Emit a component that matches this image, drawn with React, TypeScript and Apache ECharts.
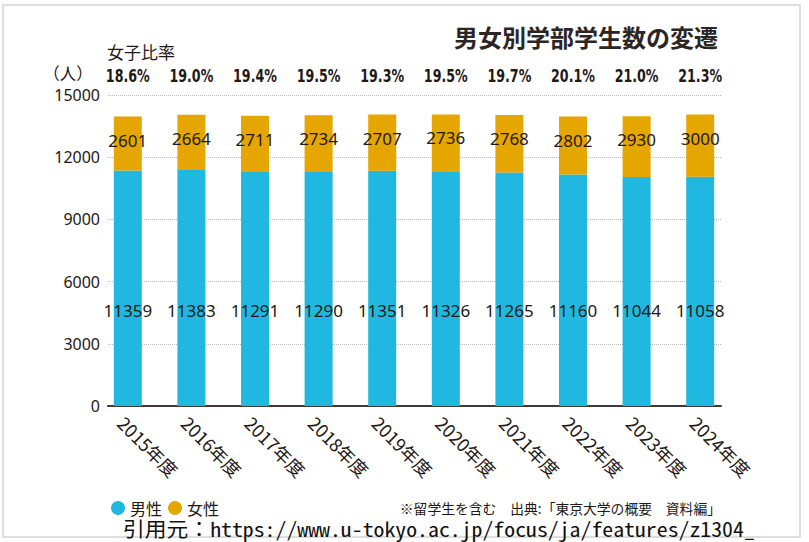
import React, { useEffect, useRef } from "react";
import * as echarts from "echarts";

const years = ["2015年度", "2016年度", "2017年度", "2018年度", "2019年度", "2020年度", "2021年度", "2022年度", "2023年度", "2024年度"];
const maleCounts = [11359, 11383, 11291, 11290, 11351, 11326, 11265, 11160, 11044, 11058];
const femaleCounts = [2601, 2664, 2711, 2734, 2707, 2736, 2768, 2802, 2930, 3000];
const femaleRatio = ["18.6%", "19.0%", "19.4%", "19.5%", "19.3%", "19.5%", "19.7%", "20.1%", "21.0%", "21.3%"];
const yMin = 0;
const yMax = 15000;
const yStep = 3000;

const TEXT = "#231815";
const CYAN = "#20b8e0";
const ORANGE = "#e6a600";
const CJK = "'Noto Sans CJK JP', 'Noto Sans', sans-serif";
const LATIN = "'Noto Sans', 'Noto Sans CJK JP', sans-serif";
const NARROW = "'DejaVu Sans Condensed', 'DejaVu Sans', sans-serif";

export default function App() {
  const ref = useRef<HTMLDivElement>(null);
  useEffect(() => {
    if (!ref.current) return;
    const chart = echarts.init(ref.current, null, { renderer: "svg" });
    const option: any = {
      animation: false,
      backgroundColor: "#ffffff",
      title: {
        text: "男女別学部学生数の変遷",
        right: 91,
        top: 24,
        padding: 0,
        textStyle: { fontFamily: CJK, fontSize: 24, fontWeight: "bold", color: "#2b2523" },
      },
      legend: {
        data: ["男性", "女性"],
        left: 111,
        top: 500,
        icon: "circle",
        itemWidth: 14,
        itemHeight: 14,
        itemGap: 6,
        padding: 0,
        textStyle: { fontFamily: CJK, fontSize: 16, color: TEXT },
      },
      grid: [
        { left: 96, right: 77, top: 95, bottom: 136 },
        { left: 108, right: 88, top: 95, bottom: 136 },
      ],
      xAxis: [
        {
          type: "category",
          gridIndex: 0,
          data: years,
          axisLine: { show: false },
          axisTick: { show: false },
          axisLabel: {
            interval: 0,
            rotate: -45,
            margin: 7,
            verticalAlign: "top",
            fontFamily: CJK,
            fontSize: 18,
            color: TEXT,
          },
        },
        {
          type: "category",
          gridIndex: 1,
          data: years,
          axisLine: { show: true, lineStyle: { color: "#3e3a39", width: 2 } },
          axisTick: { show: false },
          axisLabel: { show: false },
        },
      ],
      yAxis: [
        { type: "value", gridIndex: 0, min: yMin, max: yMax, interval: yStep, show: false },
        {
          type: "value",
          gridIndex: 1,
          min: yMin,
          max: yMax,
          interval: yStep,
          axisLine: { show: false },
          axisTick: { show: false },
          axisLabel: {
            margin: 8,
            fontFamily: LATIN,
            fontSize: 16,
            color: TEXT,
            formatter: (v: number) => String(v),
          },
          splitLine: { show: true, lineStyle: { type: "dotted", color: "#b8b8b8", width: 1 } },
        },
      ],
      series: [
        {
          name: "男性",
          type: "bar",
          xAxisIndex: 0,
          yAxisIndex: 0,
          stack: "total",
          barWidth: 28,
          data: maleCounts,
          itemStyle: { color: CYAN },
          label: {
            show: true,
            position: "insideBottom",
            distance: 87,
            fontFamily: LATIN,
            fontSize: 17,
            color: TEXT,
          },
        },
        {
          name: "女性",
          type: "bar",
          xAxisIndex: 0,
          yAxisIndex: 0,
          stack: "total",
          barWidth: 28,
          data: femaleCounts,
          itemStyle: { color: ORANGE },
          label: {
            show: true,
            position: "insideTop",
            distance: 15,
            fontFamily: LATIN,
            fontSize: 17,
            color: TEXT,
          },
        },
        {
          name: "女子比率",
          type: "custom",
          xAxisIndex: 0,
          yAxisIndex: 0,
          clip: false,
          data: femaleRatio.map((_, i) => [i, yMax]),
          renderItem: (params: any, api: any) => {
            const p = api.coord([api.value(0), api.value(1)]);
            return {
              type: "text",
              x: p[0],
              y: p[1] - 19,
              scaleX: 0.76,
              style: {
                text: femaleRatio[params.dataIndex],
                fontFamily: NARROW,
                fontWeight: "bold",
                fontSize: 18.5,
                fill: TEXT,
                textAlign: "center",
                textVerticalAlign: "middle",
              },
            };
          },
        },
      ],
      graphic: [
        {
          type: "rect",
          shape: { x: 3, y: 5, width: 797, height: 532 },
          style: { fill: "none", stroke: "#d4d4d4", lineWidth: 1.5 },
          silent: true,
          z: -1,
        },
        {
          type: "text",
          x: 107,
          y: 51,
          style: { text: "女子比率", fontFamily: CJK, fontSize: 17, fill: TEXT, textVerticalAlign: "middle" },
        },
        {
          type: "text",
          x: 68,
          y: 73,
          style: { text: "（人）", fontFamily: CJK, fontSize: 16.5, fill: TEXT, textAlign: "center", textVerticalAlign: "middle" },
        },
        {
          type: "text",
          x: 721,
          y: 508,
          style: {
            text: "※留学生を含む　出典:「東京大学の概要　資料編」",
            fontFamily: CJK,
            fontSize: 13.8,
            fill: TEXT,
            textAlign: "right",
            textVerticalAlign: "middle",
          },
        },
        {
          type: "text",
          x: 123,
          y: 528,
          scaleX: 1.09,
          style: {
            text: "引用元：https://www.u-tokyo.ac.jp/focus/ja/features/z1304_",
            fontFamily: "'Noto Sans Mono CJK JP', 'DejaVu Sans Mono', monospace",
            fontSize: 20,
            fill: "#111111",
            textVerticalAlign: "middle",
          },
        },
      ],
    };
    chart.setOption(option);
    return () => chart.dispose();
  }, []);
  return <div ref={ref} style={{ position: "fixed", left: 0, top: 0, width: 809, height: 542 }} />;
}
